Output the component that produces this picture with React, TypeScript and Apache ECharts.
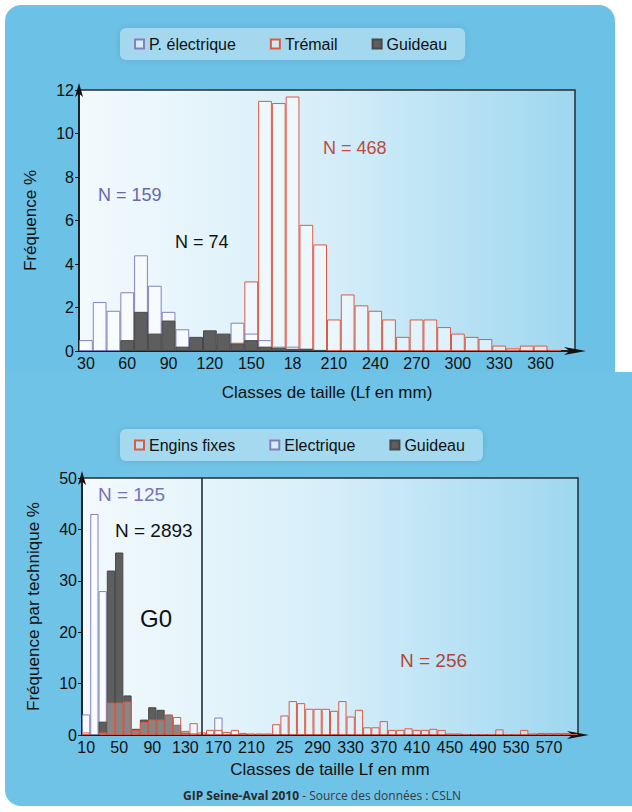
import React, { useEffect, useRef } from 'react';
import * as echarts from 'echarts';

const FONT = 'Liberation Sans, Arial, sans-serif';
const FOOT_FONT = 'Open Sans, sans-serif';

// ---- Top chart (classes of 10 mm) ----
const topCategories = [30, 40, 50, 60, 70, 80, 90, 100, 110, 120, 130, 140, 150, 160, 170, 180, 190, 200, 210, 220, 230, 240, 250, 260, 270, 280, 290, 300, 310, 320, 330, 340, 350, 360, 370, 380];
const topTickLabels = ['30', '', '', '60', '', '', '90', '', '', '120', '', '', '150', '', '', '18', '', '', '210', '', '', '240', '', '', '270', '', '', '300', '', '', '330', '', '', '360', '', ''];
const topElectrique = [0.5, 2.25, 1.85, 2.7, 4.4, 3.0, 1.8, 1.0, 0.5, 0.3, 0.3, 1.3, 0.8, 0.5, 0.2, 0.2, 0.1, 0, 0, 0, 0, 0, 0, 0, 0, 0, 0, 0, 0, 0, 0, 0, 0, 0, 0, 0];
const topTremail = [0, 0, 0, 0, 0, 0, 0, 0, 0, 0, 0.1, 0.4, 3.2, 11.5, 11.4, 11.7, 5.8, 4.9, 1.45, 2.6, 2.1, 1.85, 1.45, 0.65, 1.45, 1.45, 1.1, 0.8, 0.65, 0.55, 0.25, 0.12, 0.25, 0.25, 0.05, 0];
const topGuideau = [0, 0, 0, 0.5, 1.8, 0.8, 1.4, 0.2, 0.65, 0.95, 0.8, 0.35, 0.5, 0.2, 0.15, 0.1, 0.1, 0.05, 0, 0, 0, 0, 0, 0, 0, 0, 0, 0, 0, 0, 0, 0, 0, 0, 0, 0];

// ---- Bottom chart (classes of 10 mm) ----
const botCategories = [10, 20, 30, 40, 50, 60, 70, 80, 90, 100, 110, 120, 130, 140, 150, 160, 170, 180, 190, 200, 210, 220, 230, 240, 250, 260, 270, 280, 290, 300, 310, 320, 330, 340, 350, 360, 370, 380, 390, 400, 410, 420, 430, 440, 450, 460, 470, 480, 490, 500, 510, 520, 530, 540, 550, 560, 570, 580, 590, 600];
const botTickLabels = ['10', '', '', '', '50', '', '', '', '90', '', '', '', '130', '', '', '', '170', '', '', '', '210', '', '', '', '25', '', '', '', '290', '', '', '', '330', '', '', '', '370', '', '', '', '410', '', '', '', '450', '', '', '', '490', '', '', '', '530', '', '', '', '570', '', '', ''];
const botEngins = [0.5, 0, 0.5, 6.3, 6.3, 6.5, 1.0, 2.5, 3.0, 3.0, 4.0, 3.5, 0.8, 2.3, 0.5, 1.0, 1.0, 0.6, 1.0, 0.4, 0.3, 0.3, 0.3, 2.1, 3.8, 6.6, 6.2, 5.1, 5.1, 5.1, 4.7, 6.6, 3.6, 4.9, 1.5, 1.5, 2.7, 1.0, 1.0, 1.3, 1.0, 1.0, 1.2, 1.0, 0.3, 0.3, 0.2, 0.2, 0.2, 0.2, 1.1, 0.2, 0.2, 1.0, 0.3, 0.4, 0.4, 0.4, 0.4, 0.2];
const botElectrique = [4.0, 43, 28, 0, 0, 0, 0, 0, 0, 0, 0, 0, 0, 0, 0, 0, 3.4, 0, 0, 0, 0, 0, 0, 0, 0, 0, 0, 0, 0, 0, 0, 0, 0, 0, 0, 0, 0, 0, 0, 0, 0, 0, 0, 0, 0, 0, 0, 0, 0, 0, 0, 0, 0, 0, 0, 0, 0, 0, 0, 0];
const botGuideau = [0, 0, 2.6, 32, 35.5, 7.7, 1.2, 3.0, 5.4, 4.9, 3.9, 2.0, 0.5, 0.3, 0, 0, 0, 0, 0, 0, 0, 0, 0, 0, 0, 0, 0, 0, 0, 0, 0, 0, 0, 0, 0, 0, 0, 0, 0, 0, 0, 0, 0, 0, 0, 0, 0, 0, 0, 0, 0, 0, 0, 0, 0, 0, 0, 0, 0, 0];
const separatorClass = '150';

const nz = (arr: number[]) => arr.map((v) => (v === 0 ? null : v));

export default function App() {
  const ref = useRef<HTMLDivElement>(null);
  useEffect(() => {
    if (!ref.current) return;
    const chart = echarts.init(ref.current, undefined, { renderer: 'svg' });
    const plotBg = () =>
      new echarts.graphic.LinearGradient(0, 0, 1, 0, [
        { offset: 0, color: '#f3fafd' },
        { offset: 0.5, color: '#d6eef9' },
        { offset: 1, color: '#9ed7f0' },
      ]);
    const axisLineStyle = { color: '#111', width: 1.5 };
    const elecStyle = { color: 'rgba(255,255,255,0.55)', borderColor: '#8580bd', borderWidth: 1 };
    const redStyle = { color: 'rgba(255,255,255,0.5)', borderColor: '#de5a45', borderWidth: 1 };
    const grayStyle = { color: '#5e5e5e', borderColor: '#484848', borderWidth: 1 };
    const legendBase = {
      icon: 'rect',
      itemWidth: 9,
      itemHeight: 9,
      itemGap: 34,
      padding: [8, 18, 8, 14],
      backgroundColor: 'rgba(178,224,244,0.8)',
      borderRadius: 6,
      shadowBlur: 6,
      shadowColor: 'rgba(0,0,0,0.15)',
      textStyle: { fontSize: 16, color: '#111', fontFamily: FONT },
      selectedMode: false,
    };
    const xAxisBase = (gridIndex: number, data: number[], labels: string[], name: string, nameGap: number) => ({
      gridIndex,
      type: 'category',
      data: data.map(String),
      boundaryGap: true,
      axisLine: { lineStyle: axisLineStyle, symbol: ['none', 'arrow'], symbolSize: [6, 22], symbolOffset: [0, 11] },
      axisTick: { show: false },
      axisLabel: {
        interval: 0,
        formatter: (_v: string, i: number) => labels[i],
        fontSize: 16,
        color: '#111',
        margin: 4,
        fontFamily: FONT,
      },
      name,
      nameLocation: 'middle',
      nameGap,
      nameTextStyle: { fontSize: 17, color: '#111', fontFamily: FONT },
    });
    const yAxisBase = (gridIndex: number, max: number, interval: number, name: string) => ({
      gridIndex,
      type: 'value',
      min: 0,
      max,
      interval,
      axisLine: { show: true, lineStyle: axisLineStyle, symbol: ['none', 'arrow'], symbolSize: [6, 14], symbolOffset: [0, 7] },
      axisTick: { show: true, length: 4, lineStyle: { color: '#111' } },
      splitLine: { show: false },
      axisLabel: { fontSize: 16, color: '#111', margin: 5, fontFamily: FONT },
      name,
      nameLocation: 'middle',
      nameRotate: 90,
      nameGap: 40,
      nameTextStyle: { fontSize: 17, color: '#111', fontFamily: FONT },
    });
    const barBase = { type: 'bar', barGap: '-100%', barCategoryGap: 0 };

    chart.setOption({
      animation: false,
      backgroundColor: '#ffffff',
      legend: [
        { ...legendBase, data: ['P. électrique', 'Trémail', 'Guideau'], left: 120, top: 28 },
        { ...legendBase, data: ['Engins fixes', 'Electrique', 'Guideau'], left: 120, top: 429 },
      ],
      grid: [
        { left: 79, top: 90, width: 496, height: 261, show: true, backgroundColor: plotBg(), borderColor: '#2b2b2b', borderWidth: 1.5 },
        { left: 82, top: 478, width: 496, height: 257, show: true, backgroundColor: plotBg(), borderColor: '#2b2b2b', borderWidth: 1.5 },
      ],
      xAxis: [
        xAxisBase(0, topCategories, topTickLabels, 'Classes de taille (Lf en mm)', 33),
        xAxisBase(1, botCategories, botTickLabels, 'Classes de taille Lf en mm', 26),
      ],
      yAxis: [
        yAxisBase(0, 12, 2, 'Fréquence %'),
        yAxisBase(1, 50, 10, 'Fréquence par technique %'),
      ],
      series: [
        { ...barBase, name: 'Trémail', xAxisIndex: 0, yAxisIndex: 0, data: nz(topTremail), itemStyle: redStyle },
        { ...barBase, name: 'P. électrique', xAxisIndex: 0, yAxisIndex: 0, data: nz(topElectrique), itemStyle: elecStyle },
        { ...barBase, name: 'Guideau', xAxisIndex: 0, yAxisIndex: 0, data: nz(topGuideau), itemStyle: grayStyle },
        { ...barBase, name: 'Electrique', xAxisIndex: 1, yAxisIndex: 1, data: nz(botElectrique), itemStyle: elecStyle },
        {
          ...barBase,
          name: 'Guideau',
          xAxisIndex: 1,
          yAxisIndex: 1,
          data: nz(botGuideau),
          itemStyle: grayStyle,
          markLine: {
            silent: true,
            symbol: ['none', 'none'],
            label: { show: false },
            lineStyle: { color: '#1e1e1e', width: 1.5, type: 'solid' },
            data: [{ xAxis: separatorClass }],
          },
        },
        { ...barBase, name: 'Engins fixes', xAxisIndex: 1, yAxisIndex: 1, data: nz(botEngins), itemStyle: { ...redStyle, color: 'rgba(255,255,255,0.25)' } },
      ],
      graphic: [
        {
          type: 'rect',
          z: -10,
          silent: true,
          shape: { x: 5, y: 5, width: 610, height: 420, r: [16, 16, 0, 0] },
          style: { fill: '#6cc1e6' },
        },
        {
          type: 'rect',
          z: -10,
          silent: true,
          shape: { x: 5, y: 372, width: 650, height: 434, r: [0, 14, 0, 16] },
          style: { fill: '#6fc3e7' },
        },
        { type: 'text', z: 50, x: 98, y: 195, style: { text: 'N = 159', fill: '#6b66a8', fontSize: 18, fontFamily: FONT, verticalAlign: 'middle' } },
        { type: 'text', z: 50, x: 175, y: 242, style: { text: 'N = 74', fill: '#111', fontSize: 18, fontFamily: FONT, verticalAlign: 'middle' } },
        { type: 'text', z: 50, x: 323, y: 148, style: { text: 'N = 468', fill: '#c04a3c', fontSize: 18, fontFamily: FONT, verticalAlign: 'middle' } },
        { type: 'text', z: 50, x: 98, y: 494, style: { text: 'N = 125', fill: '#7872b6', fontSize: 19, fontFamily: FONT, verticalAlign: 'middle' } },
        { type: 'text', z: 50, x: 115, y: 530, style: { text: 'N = 2893', fill: '#111', fontSize: 19, fontFamily: FONT, verticalAlign: 'middle' } },
        { type: 'text', z: 50, x: 140, y: 618, style: { text: 'G0', fill: '#111', fontSize: 24, fontFamily: FONT, verticalAlign: 'middle' } },
        { type: 'text', z: 50, x: 400, y: 660, style: { text: 'N = 256', fill: '#b0473a', fontSize: 19, fontFamily: FONT, verticalAlign: 'middle' } },
        {
          type: 'text',
          z: 50,
          x: 322,
          y: 795,
          style: {
            text: '{b|GIP Seine-Aval 2010} - Source des données : CSLN',
            fill: '#3a3a3a',
            fontSize: 12,
            fontFamily: FOOT_FONT,
            align: 'center',
            verticalAlign: 'middle',
            rich: { b: { fontWeight: 'bold', fontSize: 12, fill: '#2a2a2a', color: '#2a2a2a', fontFamily: FOOT_FONT } },
          },
        },
      ],
    });
    return () => chart.dispose();
  }, []);
  return <div ref={ref} style={{ position: 'absolute', left: 0, top: 0, width: 632, height: 812 }} />;
}
